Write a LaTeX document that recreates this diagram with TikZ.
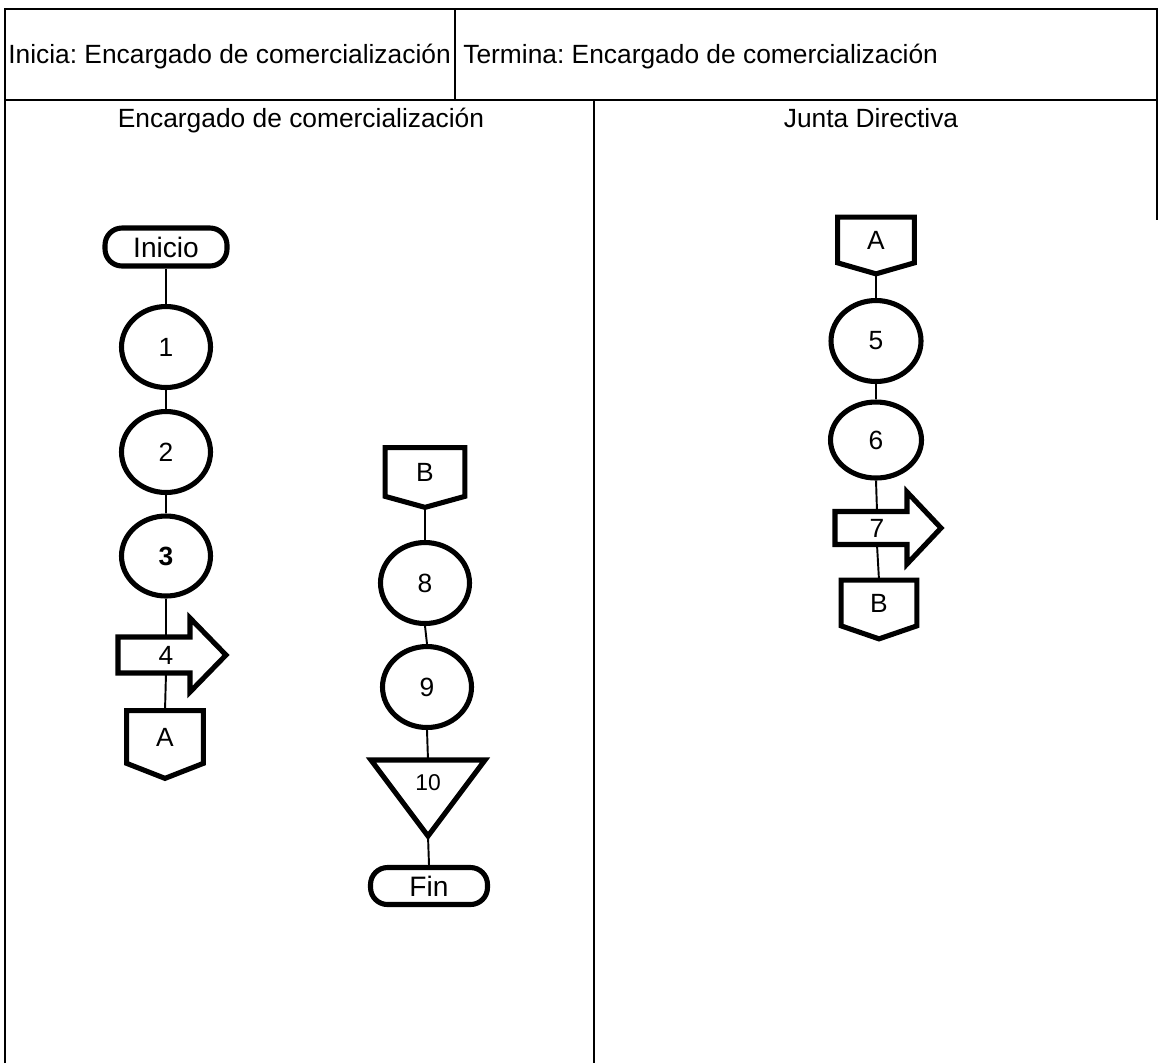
\documentclass[tikz,border=0pt]{standalone}
\usepackage{fontspec}
\setmainfont{Liberation Sans}
\usetikzlibrary{shapes.geometric,calc}
\frenchspacing
\newcommand\offpage[2]{%
  \coordinate (#1tip) at ($(#1.south)+(0,#2)$);
  \draw[shp] (#1.north west) -- (#1.north east) -- (#1.south east) -- (#1tip) -- (#1.south west) -- cycle;}
\begin{document}
\begin{tikzpicture}[x=0.02cm,y=-0.02cm,
  frame/.style={line width=1.1pt},
  conn/.style={line width=1.1pt},
  shp/.style={line width=2.9pt, line join=miter},
  oval/.style={ellipse, draw, line width=2.9pt, minimum width=1.78cm, minimum height=1.62cm, inner sep=0pt, font=\fontsize{15}{17}\selectfont},
  term/.style={draw, line width=2.9pt, rounded corners=0.34cm, inner sep=0pt, font=\fontsize{16}{19}\selectfont},
  lbl/.style={inner sep=0pt, font=\fontsize{15}{17}\selectfont},
  hdr/.style={inner sep=0pt, font=\fontsize{15}{18}\selectfont}]
\useasboundingbox (0,0) rectangle (1158,1063);

% frame
\draw[frame] (5,1063) -- (5,9) -- (1157,9) -- (1157,100);
\draw[line width=0.6pt] (1157,100) -- (1157,220);
\draw[frame] (5,100) -- (1157,100);
\draw[frame] (455,9) -- (455,100);
\draw[frame] (594,100) -- (594,1063);

% header texts
\node[hdr, anchor=base west] (hinicia) at (8,63) {Inicia: Encargado de comercialización};
\node[hdr, anchor=base west] (htermina) at (463,63) {Termina: Encargado de comercialización};
\node[hdr, anchor=base] (hcol1) at (301,127) {Encargado de comercialización};
\node[hdr, anchor=base] (hcol2) at (871,127) {Junta Directiva};

% left column
\node[term, minimum width=2.44cm, minimum height=0.76cm] (inicio) at (166,247) {Inicio};
\node[oval] (e1) at (166,347) {1};
\node[oval] (e2) at (166,452) {2};
\node[oval, minimum height=1.6cm] (e3) at (166,556) {\bfseries 3};
\node[lbl, minimum height=0.72cm] (a4) at (166,655) {4};
\draw[shp] ($(a4)+(-48,-18)$) -- ($(a4)+(24,-18)$) -- ($(a4)+(24,-37)$) -- ($(a4)+(60,0)$)
  -- ($(a4)+(24,37)$) -- ($(a4)+(24,18)$) -- ($(a4)+(-48,18)$) -- cycle;
\node[lbl, minimum width=1.52cm, minimum height=1.04cm] (Al) at (165,737) {A};
\offpage{Al}{15}

% middle column
\node[lbl, minimum width=1.58cm, minimum height=0.96cm] (Bm) at (425,472) {B};
\offpage{Bm}{11}
\node[oval] (e8) at (425,583) {8};
\node[oval] (e9) at (427,687) {9};
\node[lbl, font=\fontsize{13}{15}\selectfont] (t10) at (428,783) {10};
\coordinate (t10top) at ($(t10)+(0,-23)$);
\coordinate (t10tip) at ($(t10)+(0,53)$);
\draw[shp] ($(t10)+(-57,-23)$) -- ($(t10)+(57,-23)$) -- (t10tip) -- cycle;
\node[term, minimum width=2.34cm, minimum height=0.74cm] (fin) at (429,886) {Fin};

% right column
\node[lbl, minimum width=1.52cm, minimum height=0.9cm] (Ar) at (876,240) {A};
\offpage{Ar}{11}
\node[oval, minimum width=1.8cm] (e5) at (876,341) {5};
\node[oval, minimum width=1.82cm, minimum height=1.52cm] (e6) at (876,440) {6};
\node[lbl, minimum height=0.66cm] (a7) at (877,528) {7};
\draw[shp] ($(a7)+(-42,-16.5)$) -- ($(a7)+(30,-16.5)$) -- ($(a7)+(30,-36)$) -- ($(a7)+(64,0)$)
  -- ($(a7)+(30,36)$) -- ($(a7)+(30,16.5)$) -- ($(a7)+(-42,16.5)$) -- cycle;
\node[lbl, minimum width=1.5cm, minimum height=0.9cm] (Br) at (879,603) {B};
\offpage{Br}{13}

% connectors
\draw[conn] (inicio.south) -- (e1.north);
\draw[conn] (e1.south) -- (e2.north);
\draw[conn] (e2.south) -- (e3.north);
\draw[conn] (e3.south) -- (a4.north);
\draw[conn] (a4.south) -- (Al.north);
\draw[conn] (Bmtip) -- (e8.north);
\draw[conn] (e8.south) -- (e9.north);
\draw[conn] (e9.south) -- (t10top);
\draw[conn] (t10tip) -- (fin.north);
\draw[conn] (Artip) -- (e5.north);
\draw[conn] (e5.south) -- (e6.north);
\draw[conn] (e6.south) -- (a7.north);
\draw[conn] (a7.south) -- (Br.north);
\end{tikzpicture}
\end{document}
